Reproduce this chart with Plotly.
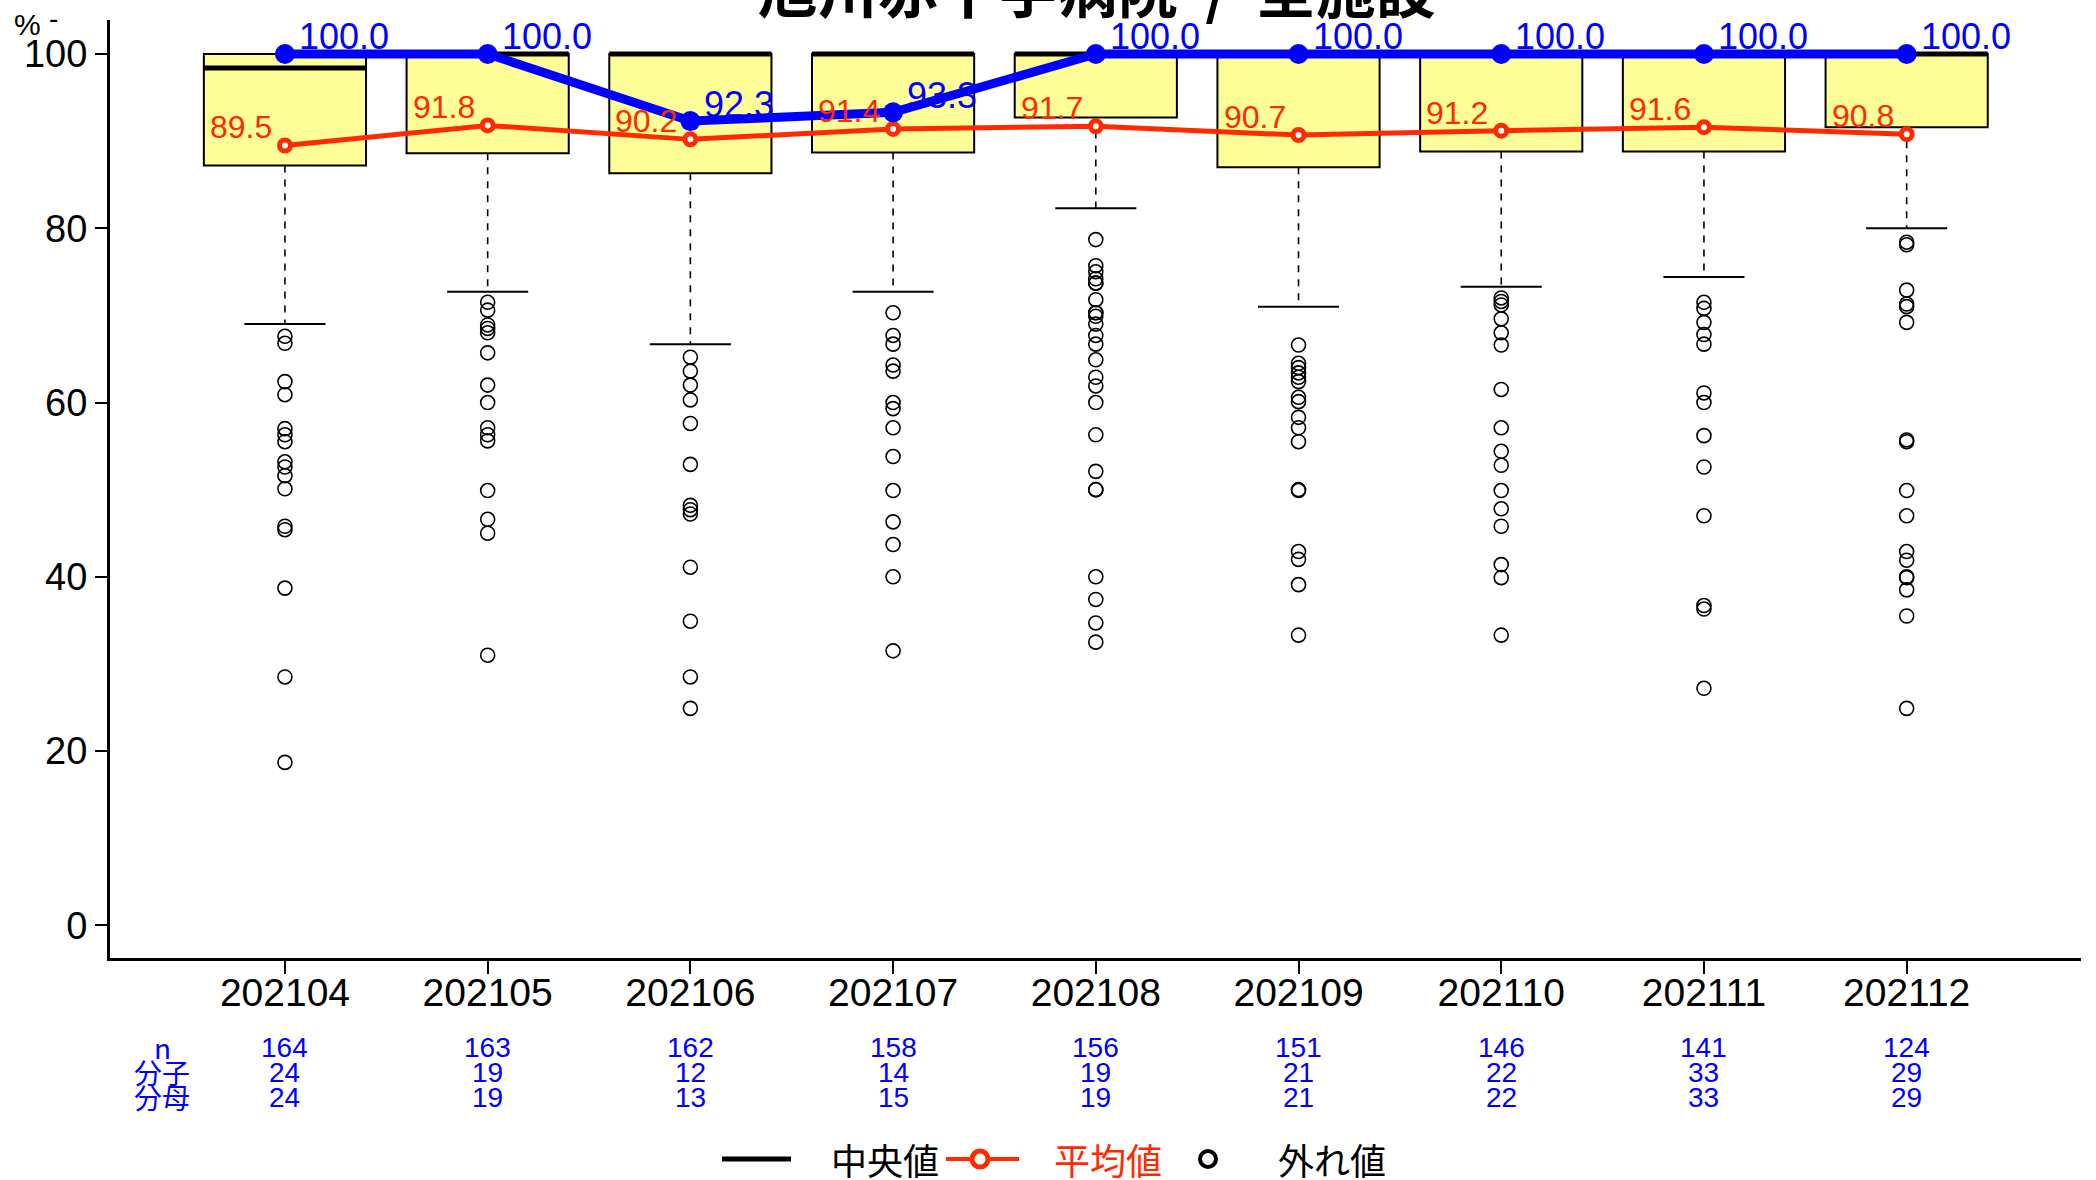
import plotly.graph_objects as go

# ---------------- data ----------------
months = ["202104", "202105", "202106", "202107", "202108", "202109", "202110", "202111", "202112"]
q1 = [87.2, 88.6, 86.3, 88.7, 92.7, 87.0, 88.8, 88.8, 91.6]
medians = [98.4, 100, 100, 100, 100, 100, 100, 100, 100]
q3 = [100, 100, 100, 100, 100, 100, 100, 100, 100]
lower_whisker = [69.0, 72.7, 66.7, 72.7, 82.3, 71.0, 73.3, 74.4, 80.0]
means = [89.5, 91.8, 90.2, 91.4, 91.7, 90.7, 91.2, 91.6, 90.8]
hospital = [100.0, 100.0, 92.3, 93.3, 100.0, 100.0, 100.0, 100.0, 100.0]
n_counts = [164, 163, 162, 158, 156, 151, 146, 141, 124]
numerators = [24, 19, 12, 14, 19, 21, 22, 33, 29]
denominators = [24, 19, 13, 15, 19, 21, 22, 33, 29]
outliers = [
    [67.6, 66.8, 62.4, 60.9, 57.0, 56.3, 55.5, 53.2, 52.6, 51.6, 50.1, 45.8, 45.4, 38.7, 28.5, 18.7],
    [71.5, 70.6, 68.9, 68.5, 68.0, 65.7, 62.0, 60.0, 57.1, 56.3, 55.6, 49.9, 46.6, 45.0, 31.0],
    [65.2, 63.6, 62.0, 60.3, 57.6, 52.9, 48.2, 47.7, 47.2, 41.1, 34.9, 28.5, 24.9],
    [70.3, 67.7, 66.7, 64.3, 63.6, 60.0, 59.3, 57.1, 53.8, 49.9, 46.3, 43.7, 40.0, 31.5],
    [78.7, 75.7, 75.0, 74.2, 73.7, 73.7, 71.8, 70.3, 70.3, 69.9, 69.0, 67.7, 66.7, 64.9, 62.9,
     61.9, 60.0, 56.3, 52.1, 50.0, 50.0, 40.0, 37.4, 34.7, 32.5],
    [66.6, 64.5, 64.0, 63.4, 62.9, 62.4, 60.6, 60.1, 58.3, 57.1, 55.5, 50.0, 49.9, 42.9, 42.0, 39.1, 33.3],
    [72.0, 71.6, 71.2, 69.6, 68.0, 66.6, 61.5, 57.1, 54.4, 52.8, 49.9, 47.8, 45.8, 41.4, 39.9, 33.3],
    [71.5, 70.8, 69.2, 67.8, 66.7, 61.1, 60.0, 56.2, 52.6, 47.0, 36.7, 36.3, 27.2],
    [78.4, 78.1, 72.9, 71.3, 71.0, 69.2, 55.7, 55.5, 49.9, 47.0, 42.9, 41.9, 40.0, 39.9, 38.5, 35.5, 24.9],
]
title_text = "旭川赤十字病院\u00a0\u00a0/\u00a0\u00a0全施設"
row_labels = ["n", "分子", "分母"]
legend_labels = ["中央値", "平均値", "外れ値"]

# ---------------- styling ----------------
W, H = 2096, 1180
ML, MR, MT, MB = 110, 15, 20, 222
PW, PH = W - ML - MR, H - MT - MB
FONT = "Liberation Sans, Arial, Noto Sans CJK JP, sans-serif"
CJK = "Noto Sans CJK JP, sans-serif"
YELLOW = "#FFFF99"
RED = "#FF2A00"
BLUE = "#0000FF"
BOX_W = 0.8
CAP_W = 0.4


def px_x(p):
    return (p - ML) / PW


def px_y(p):
    return (H - MB - p) / PH


xs = list(range(1, len(months) + 1))
fig = go.Figure()

# boxes
fig.add_trace(go.Bar(
    x=xs, y=[b - a for a, b in zip(q1, q3)], base=q1, width=BOX_W,
    marker=dict(color=YELLOW, line=dict(color="black", width=2)),
    showlegend=False, hoverinfo="skip"))

# whiskers (dashed)
wx, wy = [], []
for x, a, lw in zip(xs, q1, lower_whisker):
    wx += [x, x, None]
    wy += [a, lw, None]
fig.add_trace(go.Scatter(x=wx, y=wy, mode="lines",
                         line=dict(color="black", width=1.6, dash="7px,7px"),
                         showlegend=False, hoverinfo="skip"))

# caps
cx, cy = [], []
for x, lw in zip(xs, lower_whisker):
    cx += [x - CAP_W / 2, x + CAP_W / 2, None]
    cy += [lw, lw, None]
fig.add_trace(go.Scatter(x=cx, y=cy, mode="lines", line=dict(color="black", width=2),
                         showlegend=False, hoverinfo="skip"))

# medians
mx, my = [], []
for x, m in zip(xs, medians):
    mx += [x - BOX_W / 2, x + BOX_W / 2, None]
    my += [m, m, None]
fig.add_trace(go.Scatter(x=mx, y=my, mode="lines", line=dict(color="black", width=5),
                         showlegend=False, hoverinfo="skip"))

# outliers
ox, oy = [], []
for x, vals in zip(xs, outliers):
    ox += [x] * len(vals)
    oy += vals
fig.add_trace(go.Scatter(x=ox, y=oy, mode="markers",
                         marker=dict(symbol="circle-open", size=14, color="black", line=dict(width=1.6)),
                         showlegend=False, hoverinfo="skip"))

# mean line
fig.add_trace(go.Scatter(
    x=xs, y=means, mode="lines+markers",
    line=dict(color=RED, width=5),
    marker=dict(symbol="circle", size=11, color="white", line=dict(color=RED, width=5)),
    cliponaxis=False, showlegend=False, hoverinfo="skip"))

# hospital line
fig.add_trace(go.Scatter(
    x=xs, y=hospital, mode="lines+markers",
    line=dict(color=BLUE, width=9),
    marker=dict(symbol="circle", size=20, color=BLUE),
    cliponaxis=False, showlegend=False, hoverinfo="skip"))

annotations = []
# value labels
for x, v in zip(xs, means):
    annotations.append(dict(text=f"{v:.1f}", xref="x", yref="y", x=x, y=v, xshift=-11, yshift=18,
                            xanchor="right", yanchor="middle", showarrow=False,
                            font=dict(family=FONT, size=32, color=RED)))
for x, v in zip(xs, hospital):
    annotations.append(dict(text=f"{v:.1f}", xref="x", yref="y", x=x, y=v, xshift=12, yshift=17,
                            xanchor="left", yanchor="middle", showarrow=False,
                            font=dict(family=FONT, size=36, color=BLUE)))

# title (clipped at top, as in reference)
annotations.append(dict(text=f"<b>{title_text}</b>", xref="paper", yref="paper",
                        x=px_x(1097), y=px_y(32), xanchor="center", yanchor="bottom",
                        showarrow=False, font=dict(family=CJK, size=60, color="black")))
# % label
annotations.append(dict(text="%", xref="paper", yref="paper", x=px_x(12), y=px_y(25),
                        xanchor="left", yanchor="middle", showarrow=False,
                        font=dict(family=FONT, size=30, color="black")))
annotations.append(dict(text="-", xref="paper", yref="paper", x=px_x(47), y=px_y(18),
                        xanchor="left", yanchor="middle", showarrow=False,
                        font=dict(family=FONT, size=28, color="black")))

# table rows
row_y = [1047, 1072, 1097]
for lab, ry in zip(row_labels, row_y):
    annotations.append(dict(text=lab, xref="paper", yref="paper", x=px_x(162), y=px_y(ry),
                            xanchor="center", yanchor="middle", showarrow=False,
                            font=dict(family=CJK, size=28, color=BLUE)))
for row, ry in zip([n_counts, numerators, denominators], row_y):
    for x, v in zip(xs, row):
        annotations.append(dict(text=str(v), xref="x", yref="paper", x=x, y=px_y(ry),
                                xanchor="center", yanchor="middle", showarrow=False,
                                font=dict(family=FONT, size=28, color=BLUE)))

# legend (manual)
LY = 1159
shapes = []
shapes.append(dict(type="line", xref="paper", yref="paper", x0=px_x(722), x1=px_x(791),
                   y0=px_y(LY), y1=px_y(LY), line=dict(color="black", width=5)))
shapes.append(dict(type="line", xref="paper", yref="paper", x0=px_x(946), x1=px_x(1019),
                   y0=px_y(LY), y1=px_y(LY), line=dict(color=RED, width=4)))
shapes.append(dict(type="circle", xref="paper", yref="paper", xsizemode="pixel", ysizemode="pixel",
                   xanchor=px_x(980), yanchor=px_y(LY), x0=-8, x1=8, y0=-8, y1=8,
                   fillcolor="white", line=dict(color=RED, width=5)))
shapes.append(dict(type="circle", xref="paper", yref="paper", xsizemode="pixel", ysizemode="pixel",
                   xanchor=px_x(1208), yanchor=px_y(LY), x0=-8, x1=8, y0=-8, y1=8,
                   fillcolor="white", line=dict(color="black", width=4)))
for lab, lx, col in zip(legend_labels, [829, 1052, 1276], ["black", RED, "black"]):
    annotations.append(dict(text=lab, xref="paper", yref="paper", x=px_x(lx), y=px_y(1159),
                            xanchor="left", yanchor="middle", showarrow=False,
                            font=dict(family=CJK, size=36, color=col)))

fig.update_layout(
    width=W, height=H,
    margin=dict(l=ML, r=MR, t=MT, b=MB, pad=0),
    plot_bgcolor="white", paper_bgcolor="white",
    font=dict(family=FONT, color="black"),
    showlegend=False,
    annotations=annotations,
    shapes=shapes,
    xaxis=dict(range=[0.137, 9.86], tickvals=xs, ticktext=months, ticks="outside", ticklen=13,
               tickwidth=1.5, tickcolor="black", showline=True, linecolor="black", linewidth=3,
               showgrid=False, zeroline=False, ticklabelstandoff=-15,
               tickfont=dict(family=FONT, size=39, color="black")),
    yaxis=dict(range=[-3.75, 103.9], tickvals=[0, 20, 40, 60, 80, 100], ticks="outside", ticklen=12,
               tickwidth=1.5, tickcolor="black", showline=True, linecolor="black", linewidth=3,
               showgrid=False, zeroline=False,
               tickfont=dict(family=FONT, size=38, color="black")),
)

fig.write_html("out.html", config={"displayModeBar": False},
               post_script="document.body.style.margin='0';")
